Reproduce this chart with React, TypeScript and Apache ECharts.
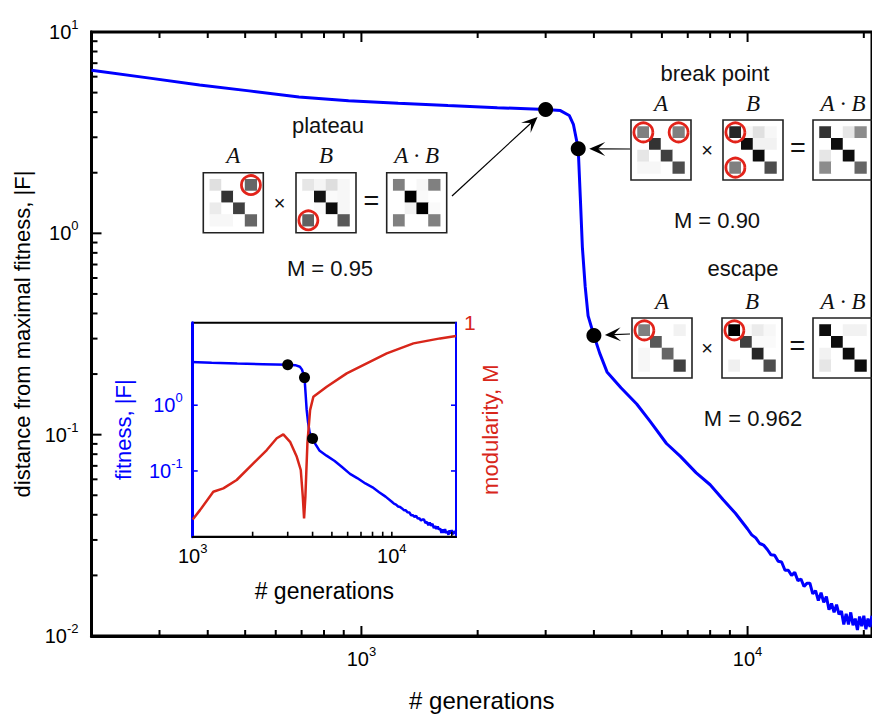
import React, { useEffect, useRef } from 'react';
import * as echarts from 'echarts';

// ---------- data ----------
const fitGen = [200, 283, 381, 512, 689, 926, 1245, 1674, 2249, 3000, 3276, 3453, 3539, 3643, 3689, 3734, 3797, 3864, 4000, 4140, 4325, 4700, 5163, 5600, 6166, 6700, 7363, 8000, 8635, 9300, 10000,
  10250, 10500, 10750, 11000, 11250, 11500, 11750, 12000, 12250, 12500, 12750, 13000, 13250, 13500, 13750, 14000, 14250, 14500, 14750, 15000,
  15250, 15500, 15750, 16000, 16250, 16500, 16750, 17000, 17250, 17500, 17750, 18000, 18250, 18500, 18750, 19000, 19250, 19500, 19750, 20000, 20250, 20500, 20750, 21000];
const fitVal = [6.45, 5.9, 5.45, 5.1, 4.76, 4.56, 4.43, 4.31, 4.21, 4.12, 4.07, 3.85, 3.48, 2.63, 1.5, 0.855, 0.545, 0.389, 0.311, 0.254, 0.205, 0.171, 0.142, 0.116, 0.0904, 0.078, 0.0646, 0.0564, 0.0476, 0.0407, 0.034,
  0.0318, 0.0307, 0.0288, 0.0283, 0.0269, 0.0253, 0.0252, 0.0235, 0.0233, 0.0212, 0.0212, 0.02, 0.0207, 0.0188, 0.0192, 0.0176, 0.0183, 0.0183, 0.0162, 0.0168,
  0.015, 0.0164, 0.0147, 0.0157, 0.0135, 0.0145, 0.0131, 0.0143, 0.0128, 0.0133, 0.0114, 0.0129, 0.0114, 0.0131, 0.0113, 0.0122, 0.0107, 0.0125, 0.0112, 0.0126, 0.0108, 0.0122, 0.0111, 0.0126];

const modGen = [1000, 1088, 1269, 1425, 1663, 2016, 2355, 2643, 2851, 3083, 3332, 3489, 3572, 3625, 3680, 3767, 3886, 4036, 4711, 5936, 7482, 9432, 12840, 17490, 21000];
const modVal = [0.8897, 0.8949, 0.9052, 0.9071, 0.9118, 0.9211, 0.9286, 0.9352, 0.9374, 0.9332, 0.9248, 0.9174, 0.9024, 0.8903, 0.9024, 0.9323, 0.951, 0.9585, 0.9641, 0.9716, 0.9772, 0.9828, 0.9884, 0.9912, 0.9925];

const dotGen = [3000, 3643, 4000];
const dotVal = [4.12, 2.63, 0.311];

const majorX = [1000, 10000];
const minorX = [300, 400, 500, 600, 700, 800, 900, 2000, 3000, 4000, 5000, 6000, 7000, 8000, 9000, 20000];
const majorY = [0.01, 0.1, 1, 10];
const majorYInner = [0.1, 1];
const minorY = [0.02, 0.03, 0.04, 0.05, 0.06, 0.07, 0.08, 0.09, 0.2, 0.3, 0.4, 0.5, 0.6, 0.7, 0.8, 0.9, 2, 3, 4, 5, 6, 7, 8, 9];
const insetTickX = [2000, 3000, 4000, 5000, 6000, 7000, 8000, 9000, 10000, 20000];
const insetTickY = [0.1, 1];
const modTick = [1];

// 4x4 matrices, 0 = white, 1 = black
const plateauA = [[0.12, 0, 0, 0.6], [0, 0.8, 0, 0], [0.08, 0, 0.75, 0], [0.03, 0.03, 0, 0.6]];
const plateauB = [[0.1, 0.04, 0.13, 0.03], [0, 0.92, 0.02, 0.03], [0, 0.02, 0.95, 0.03], [0.62, 0, 0, 0.65]];
const plateauAB = [[0.5, 0, 0.03, 0.5], [0, 1, 0.02, 0], [0, 0.05, 1, 0.02], [0.5, 0, 0, 0.5]];
const breakA = [[0.5, 0, 0, 0.5], [0, 0.8, 0, 0], [0.1, 0, 0.75, 0], [0.03, 0.03, 0, 0.7]];
const breakB = [[0.85, 0.03, 0.12, 0.03], [0, 0.95, 0.05, 0.05], [0, 0, 0.95, 0], [0.5, 0, 0, 0.7]];
const breakAB = [[0.8, 0, 0.1, 0.45], [0, 0.95, 0, 0], [0.1, 0, 0.95, 0], [0.45, 0, 0, 0.6]];
const escapeA = [[0.5, 0, 0, 0.05], [0, 0.65, 0, 0], [0.03, 0, 0.6, 0], [0.03, 0, 0, 0.75]];
const escapeB = [[1, 0.02, 0.08, 0.03], [0, 0.75, 0.02, 0.02], [0, 0, 0.85, 0], [0.06, 0, 0, 0.7]];
const escapeAB = [[0.95, 0, 0.05, 0.05], [0, 0.95, 0, 0], [0.05, 0, 0.95, 0], [0.1, 0, 0, 0.95]];

// circled cells [col, row]
const plateauACircles = [[3, 0]];
const plateauBCircles = [[0, 3]];
const breakACircles = [[0, 0], [3, 0]];
const breakBCircles = [[0, 0], [0, 3]];
const escapeACircles = [[0, 0]];
const escapeBCircles = [[0, 0]];

const groupTitles = ['plateau', 'break point', 'escape'];
const groupM = ['M = 0.95', 'M = 0.90', 'M = 0.962'];

// ---------- layout ----------
const FONT = "'Liberation Sans', Arial, Helvetica, sans-serif";
const SERIF = "'Liberation Serif', 'Times New Roman', serif";
const BLUE = '#0000ff';
const RED = '#d8261a';
const BOX = 60;
const PAD = 6.5;
const X_MIN = 200, X_MAX = 21000, Y_MIN = 0.01, Y_MAX = 10;
const IX_MIN = 1000, IX_MAX = 21000, IY_MIN = 0.01, IY_MAX = 18;

const groups = [
  { ys: 172.7, xs: [203.3, 296, 386.7], title: [328, 125], m: [330, 268], mats: [plateauA, plateauB, plateauAB], circles: [plateauACircles, plateauBCircles, []], arrowFrom: [452, 196] },
  { ys: 120, xs: [631, 723, 813], title: [715, 73], m: [717, 220], mats: [breakA, breakB, breakAB], circles: [breakACircles, breakBCircles, []], arrowFrom: [630, 149] },
  { ys: 318, xs: [632, 722, 813], title: [743, 268], m: [753, 418], mats: [escapeA, escapeB, escapeAB], circles: [escapeACircles, escapeBCircles, []], arrowFrom: [630, 334] },
];

const powRich = (color: string) => ({
  b: { fontSize: 20, fontFamily: FONT, color, verticalAlign: 'bottom', lineHeight: 20 },
  s: { fontSize: 13, fontFamily: FONT, color, verticalAlign: 'bottom', lineHeight: 13, padding: [0, 0, 11, 0] },
});
const powFmt = (v: number) => `{b|10}{s|${Math.round(Math.log10(v))}}`;

function buildOption() {
  const grids: any[] = [
    { left: 91.5, top: 32, width: 786, height: 616, show: true, borderColor: '#000', borderWidth: 3, backgroundColor: 'transparent' },
    { left: 192.7, top: 322.7, width: 263.3, height: 214, show: true, borderColor: '#000', borderWidth: 2, backgroundColor: '#fff' },
  ];
  const xAxes: any[] = [
    {
      gridIndex: 0, type: 'log', min: X_MIN, max: X_MAX, position: 'bottom',
      axisLine: { show: true, lineStyle: { color: '#000', width: 3 } },
      axisTick: { show: false },
      axisLabel: { customValues: majorX, formatter: powFmt, rich: powRich('#000'), margin: 13 },
      splitLine: { show: false },
      name: '# generations', nameLocation: 'middle', nameGap: 52,
      nameTextStyle: { fontFamily: FONT, fontSize: 24, color: '#000' },
    },
    {
      gridIndex: 1, type: 'log', min: IX_MIN, max: IX_MAX, position: 'bottom',
      axisLine: { show: true, lineStyle: { color: '#000', width: 2 } },
      axisTick: { show: false },
      axisLabel: { customValues: majorX, formatter: powFmt, rich: powRich('#000'), margin: 9 },
      splitLine: { show: false },
      name: '# generations', nameLocation: 'middle', nameGap: 43,
      nameTextStyle: { fontFamily: FONT, fontSize: 23, color: '#000' },
    },
  ];
  const yAxes: any[] = [
    {
      gridIndex: 0, type: 'log', min: Y_MIN, max: Y_MAX, position: 'left',
      axisLine: { show: true, lineStyle: { color: '#000', width: 3 } },
      axisTick: { show: false },
      axisLabel: { customValues: majorY, formatter: powFmt, rich: powRich('#000'), margin: 13 },
      splitLine: { show: false },
      name: 'distance from maximal fitness, |F|', nameLocation: 'middle', nameGap: 58,
      nameTextStyle: { fontFamily: FONT, fontSize: 22, color: '#000' },
    },
    {
      gridIndex: 1, type: 'log', min: IY_MIN, max: IY_MAX, position: 'left',
      axisLine: { show: true, lineStyle: { color: BLUE, width: 3 } },
      axisTick: { show: false },
      axisLabel: { customValues: insetTickY, formatter: powFmt, rich: powRich(BLUE), margin: 10 },
      splitLine: { show: false },
      name: 'fitness, |F|', nameLocation: 'middle', nameGap: 58,
      nameTextStyle: { fontFamily: FONT, fontSize: 22, color: BLUE },
    },
    {
      gridIndex: 1, type: 'value', min: 0.88, max: 1, position: 'right',
      axisLine: { show: true, lineStyle: { color: BLUE, width: 2 } },
      axisTick: { show: false },
      axisLabel: { customValues: modTick, formatter: () => '1', color: RED, fontFamily: FONT, fontSize: 21, margin: 8 },
      splitLine: { show: false },
      name: 'modularity, M', nameLocation: 'middle', nameGap: 22,
      nameTextStyle: { fontFamily: FONT, fontSize: 22, color: RED },
    },
  ];

  const series: any[] = [
    {
      type: 'line', xAxisIndex: 0, yAxisIndex: 0, data: fitGen.map((g, i) => [g, fitVal[i]]),
      symbol: 'none', lineStyle: { color: BLUE, width: 3 }, itemStyle: { color: BLUE }, z: 3, silent: true,
    },
    {
      type: 'scatter', xAxisIndex: 0, yAxisIndex: 0, data: dotGen.map((g, i) => [g, dotVal[i]]),
      symbolSize: 15, itemStyle: { color: '#000', opacity: 1 }, z: 4, silent: true,
    },
    {
      type: 'line', xAxisIndex: 1, yAxisIndex: 1, data: fitGen.map((g, i) => [g, fitVal[i]]),
      symbol: 'none', lineStyle: { color: BLUE, width: 2.5 }, z: 3, silent: true,
    },
    {
      type: 'line', xAxisIndex: 1, yAxisIndex: 2, data: modGen.map((g, i) => [g, modVal[i]]),
      symbol: 'none', lineStyle: { color: RED, width: 2.5 }, z: 3, silent: true,
    },
    {
      type: 'scatter', xAxisIndex: 1, yAxisIndex: 1, data: dotGen.map((g, i) => [g, dotVal[i]]),
      symbolSize: 11, itemStyle: { color: '#000', opacity: 1 }, z: 4, silent: true,
    },
  ];

  const heatIdx: number[] = [];
  const graphic: any[] = [];
  const cats = ['0', '1', '2', '3'];
  let gi = 2;
  const txt = (text: string, x: number, y: number, extra: any = {}) => ({
    type: 'text', z: 20, silent: true,
    style: {
      text, x, y, fill: '#111', fontFamily: FONT, fontSize: 22,
      textAlign: 'center', textVerticalAlign: 'middle', align: 'center', verticalAlign: 'middle', ...extra,
    },
  });
  const matLabels = ['A', 'B', 'A · B'];

  groups.forEach((g, k) => {
    graphic.push(txt(groupTitles[k], g.title[0], g.title[1]));
    graphic.push(txt(groupM[k], g.m[0], g.m[1]));
    g.xs.forEach((bx, j) => {
      const by = g.ys;
      grids.push({ left: bx + PAD, top: by + PAD, width: BOX - 2 * PAD, height: BOX - 2 * PAD, show: false });
      xAxes.push({ gridIndex: gi, type: 'category', data: cats, show: false });
      yAxes.push({ gridIndex: gi, type: 'category', data: cats, show: false, inverse: true });
      const ax = xAxes.length - 1;
      const ay = yAxes.length - 1;
      const m = g.mats[j];
      const data: any[] = [];
      m.forEach((row, r) => row.forEach((v, c) => data.push([c, r, v])));
      heatIdx.push(series.length);
      series.push({ type: 'heatmap', xAxisIndex: ax, yAxisIndex: ay, data, itemStyle: { borderWidth: 0 }, z: 2, silent: true });
      if (g.circles[j].length) {
        series.push({
          type: 'scatter', xAxisIndex: ax, yAxisIndex: ay, data: g.circles[j], symbolSize: 19, z: 10, silent: true,
          itemStyle: { color: 'rgba(0,0,0,0)', borderColor: '#e2231a', borderWidth: 2.8, opacity: 1 },
        });
      }
      graphic.push({ type: 'rect', z: 6, silent: true, shape: { x: bx, y: by, width: BOX, height: BOX }, style: { fill: 'none', stroke: '#222', lineWidth: 1.6 } });
      graphic.push(txt(matLabels[j], bx + BOX / 2, by - 17, { fontFamily: SERIF, fontStyle: 'italic', fontSize: 23 }));
      gi++;
    });
    const cy = g.ys + BOX / 2;
    graphic.push(txt('×', (g.xs[0] + BOX + g.xs[1]) / 2, cy, { fontSize: 20 }));
    graphic.push(txt('=', (g.xs[1] + BOX + g.xs[2]) / 2, cy - 2, { fontSize: 27 }));
  });

  return {
    animation: false,
    backgroundColor: '#fff',
    grid: grids,
    xAxis: xAxes,
    yAxis: yAxes,
    visualMap: { show: false, type: 'continuous', min: 0, max: 1, seriesIndex: heatIdx, dimension: 2, inRange: { color: ['#ffffff', '#000000'] } },
    series,
    graphic,
  };
}

function arrow(from: number[], tip: number[]) {
  const dx = tip[0] - from[0];
  const dy = tip[1] - from[1];
  const len = Math.hypot(dx, dy);
  const ux = dx / len, uy = dy / len;
  const nx = -uy, ny = ux;
  const L = 16, W = 7;
  const notch = [tip[0] - ux * L * 0.55, tip[1] - uy * L * 0.55];
  return [
    { type: 'line', z: 20, silent: true, shape: { x1: from[0], y1: from[1], x2: notch[0], y2: notch[1] }, style: { stroke: '#000', lineWidth: 1.2 } },
    {
      type: 'polygon', z: 20, silent: true,
      shape: { points: [tip, [tip[0] - ux * L + nx * W, tip[1] - uy * L + ny * W], notch, [tip[0] - ux * L - nx * W, tip[1] - uy * L - ny * W]] },
      style: { fill: '#000' },
    },
  ];
}

export default function App() {
  const ref = useRef<HTMLDivElement>(null);
  useEffect(() => {
    if (!ref.current) return;
    const chart = echarts.init(ref.current, undefined, { renderer: 'svg' });
    const opt: any = buildOption();
    chart.setOption(opt);

    const extra: any[] = [];
    groups.forEach((g, k) => {
      const p = chart.convertToPixel({ seriesIndex: 1 }, [dotGen[k], dotVal[k]]) as number[];
      const dx = g.arrowFrom[0] - p[0];
      const dy = g.arrowFrom[1] - p[1];
      const len = Math.hypot(dx, dy);
      const r = 11;
      const tip = [p[0] + (dx / len) * r, p[1] + (dy / len) * r];
      extra.push(...arrow(g.arrowFrom, tip));
    });

    // tick marks placed through the axes' own scales
    const ticks: any[] = [];
    const addTick = (si: number, pt: number[], dx: number, dy: number, color: string, w: number) => {
      const p = chart.convertToPixel({ seriesIndex: si }, pt) as number[];
      if (!p) return;
      ticks.push({ type: 'line', z: 15, shape: { x1: p[0], y1: p[1], x2: p[0] + dx, y2: p[1] + dy }, style: { stroke: color, lineWidth: w } });
    };
    majorX.forEach((v) => { addTick(1, [v, Y_MIN], 0, -10, '#000', 2); addTick(1, [v, Y_MAX], 0, 10, '#000', 2); });
    minorX.forEach((v) => { addTick(1, [v, Y_MIN], 0, -6, '#000', 2); addTick(1, [v, Y_MAX], 0, 6, '#000', 2); });
    majorYInner.forEach((v) => addTick(1, [X_MIN, v], 10, 0, '#000', 2));
    minorY.forEach((v) => addTick(1, [X_MIN, v], 6, 0, '#000', 2));
    insetTickX.forEach((v) => addTick(4, [v, IY_MIN], 0, -5, '#000', 1.6));
    insetTickY.forEach((v) => { addTick(4, [IX_MIN, v], 5, 0, BLUE, 1.6); addTick(4, [IX_MAX, v], -5, 0, BLUE, 1.6); });

    chart.setOption({ graphic: opt.graphic.concat(extra, ticks) });
    return () => chart.dispose();
  }, []);
  return <div ref={ref} style={{ position: 'fixed', left: 0, top: 0, width: 872, height: 717, background: '#fff' }} />;
}
